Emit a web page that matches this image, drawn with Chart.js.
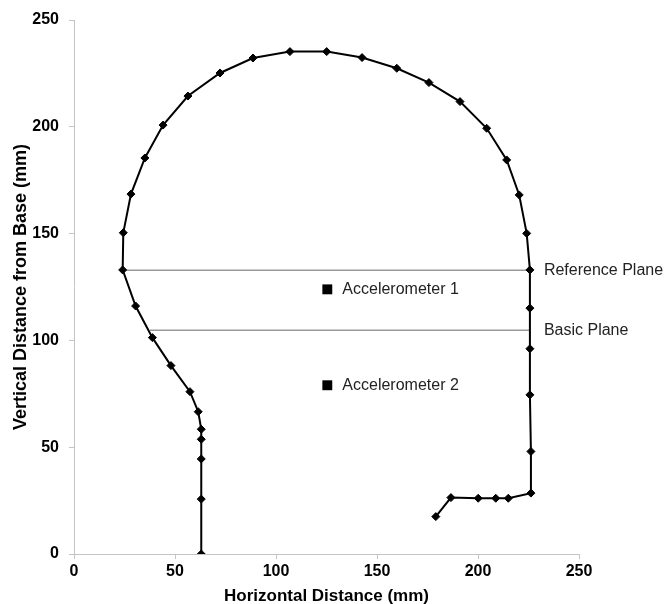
<!DOCTYPE html>
<html>
<head>
<meta charset="utf-8">
<script src="https://cdn.jsdelivr.net/npm/chart.js@4/dist/chart.umd.min.js"></script>
<style>
  html, body { margin: 0; padding: 0; background: #fff; }
  #wrap { width: 669px; height: 604px; }
</style>
</head>
<body>
<div id="wrap"><canvas id="chartHead"></canvas></div>
<script>
// head outline (mm)
const outlineX = [63, 63, 63, 63, 63, 61.5, 57.4, 48, 38.8, 30.5, 24.1, 24.4, 28.2, 35.1, 44.1, 56.4, 72.3, 88.6, 106.9, 125.1, 142.6, 159.8, 175.7, 191.1, 204.3, 214.2, 220.4, 224.1, 225.7, 225.7, 225.7, 225.7, 226.2, 226.2, 215, 208.8, 200.1, 186.6, 179.1];
const outlineY = [0, 25.7, 44.5, 53.7, 58.4, 66.6, 76, 88.2, 101.3, 116.1, 133, 150.4, 168.5, 185.4, 200.8, 214.4, 225.2, 232.2, 235.2, 235.2, 232.4, 227.4, 220.7, 211.8, 199.3, 184.5, 168.1, 150.1, 133, 115.1, 96.1, 74.5, 48, 28.5, 26.1, 26.1, 26.1, 26.4, 17.5];

// planes
const refPlaneX = [24.1, 225.7];
const refPlaneY = [132.8, 132.8];
const basicPlaneX = [37.6, 225.7];
const basicPlaneY = [104.7, 104.7];

// accelerometers
const accelX = [125.4, 125.4];
const accelY = [123.9, 79];
const accelLabels = ["Accelerometer 1", "Accelerometer 2"];

const planeLabels = ["Reference Plane", "Basic Plane"];
const ticksX = [0, 50, 100, 150, 200, 250];

const toPts = (xs, ys) => xs.map((x, i) => ({ x: x, y: ys[i] }));

const FONT = "'Liberation Sans', Arial, sans-serif";

const labelPlugin = {
  id: "labelPlugin",
  afterDatasetsDraw(chart) {
    const ctx = chart.ctx;
    const xs = chart.scales.x, ys = chart.scales.y;
    ctx.save();
    ctx.font = "16px " + FONT;
    ctx.fillStyle = "#222";
    ctx.textAlign = "left";
    ctx.textBaseline = "middle";
    accelLabels.forEach((t, i) => {
      ctx.fillText(t, xs.getPixelForValue(accelX[i]) + 15, ys.getPixelForValue(accelY[i]));
    });
    ctx.fillText(planeLabels[0], xs.getPixelForValue(refPlaneX[1]) + 14, ys.getPixelForValue(refPlaneY[0]));
    ctx.fillText(planeLabels[1], xs.getPixelForValue(basicPlaneX[1]) + 14, ys.getPixelForValue(basicPlaneY[0]));
    ctx.restore();
  }
};

new Chart(document.getElementById("chartHead"), {
  type: "scatter",
  data: {
    datasets: [
      {
        label: "Reference Plane",
        data: toPts(refPlaneX, refPlaneY),
        showLine: true,
        borderColor: "#9a9a9a",
        borderWidth: 1.5,
        pointRadius: 0,
        order: 3
      },
      {
        label: "Basic Plane",
        data: toPts(basicPlaneX, basicPlaneY),
        showLine: true,
        borderColor: "#9a9a9a",
        borderWidth: 1.5,
        pointRadius: 0,
        order: 3
      },
      {
        label: "Outline",
        data: toPts(outlineX, outlineY),
        showLine: true,
        borderColor: "#000",
        borderWidth: 2,
        pointStyle: "rectRot",
        pointRadius: 4,
        pointBackgroundColor: "#000",
        pointBorderColor: "#000",
        pointBorderWidth: 1,
        order: 1
      },
      {
        label: "Accelerometers",
        data: toPts(accelX, accelY),
        pointStyle: "rect",
        pointRadius: 7,
        pointBackgroundColor: "#000",
        pointBorderColor: "#000",
        pointBorderWidth: 0,
        order: 0
      }
    ]
  },
  options: {
    responsive: true,
    maintainAspectRatio: false,
    animation: false,
    layout: { padding: { left: 0, top: 20, right: 90, bottom: 0 } },
    plugins: {
      legend: { display: false },
      tooltip: { enabled: false }
    },
    scales: {
      x: {
        type: "linear",
        min: 0,
        max: 250,
        afterBuildTicks: (s) => { s.ticks = ticksX.map(v => ({ value: v })); },
        afterFit: (s) => { s.height = 50; },
        border: { color: "#c4c4c4", width: 1 },
        grid: { drawOnChartArea: false, color: "#c4c4c4", tickLength: 5 },
        ticks: { color: "#000", padding: 3, font: { family: FONT, size: 16, weight: "bold" } },
        title: {
          display: true,
          text: "Horizontal Distance (mm)",
          color: "#000",
          font: { family: FONT, size: 17, weight: "bold", lineHeight: 1 },
          padding: { top: 0, bottom: -1 }
        }
      },
      y: {
        type: "linear",
        min: 0,
        max: 250,
        ticks: { stepSize: 50, color: "#000", padding: 10, font: { family: FONT, size: 16, weight: "bold" } },
        afterFit: (s) => { s.width = 74; },
        border: { color: "#c4c4c4", width: 1 },
        grid: { drawOnChartArea: false, color: "#c4c4c4", tickLength: 5 },
        title: {
          display: true,
          text: "Vertical Distance from Base (mm)",
          color: "#000",
          font: { family: FONT, size: 18, weight: "bold" },
          padding: { top: 10, bottom: 0 }
        }
      }
    }
  },
  plugins: [labelPlugin]
});
</script>
</body>
</html>
